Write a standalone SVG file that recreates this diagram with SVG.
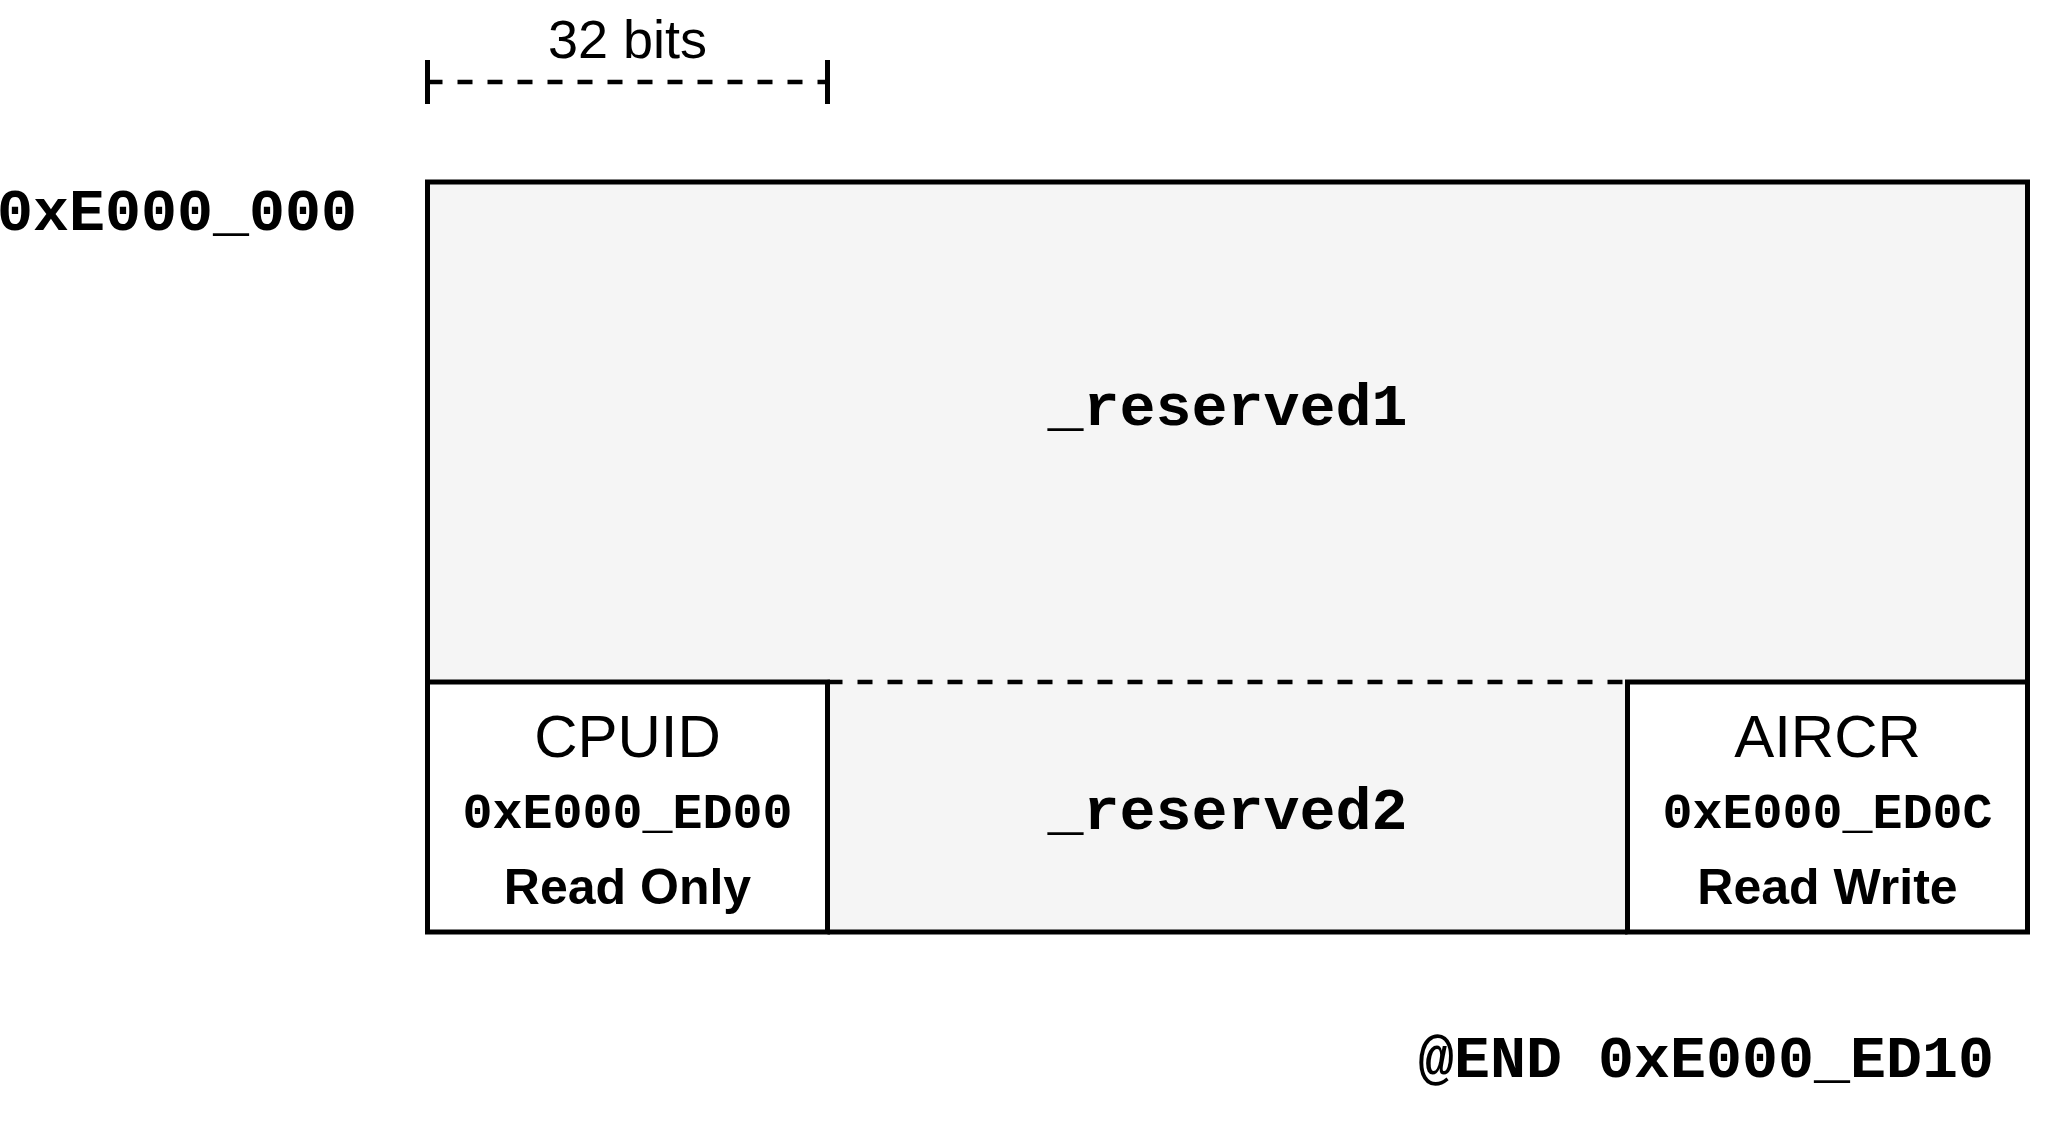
<svg xmlns="http://www.w3.org/2000/svg" width="2055" height="1130" viewBox="0 0 2055 1130">
<style>
.sans{font-family:"Liberation Sans",Arial,Helvetica,sans-serif;fill:#000}
.mono{font-family:"Courier New","Liberation Mono",monospace;font-weight:bold;fill:#000}
.b{font-weight:bold}
.line{stroke:#000;stroke-width:5;fill:none}
.dash{stroke:#000;stroke-width:4.5;fill:none;stroke-dasharray:15 15}
.grey{fill:#f5f5f5}
.cell{fill:#fff;stroke:#000;stroke-width:5}
</style>
<rect width="2055" height="1130" fill="#fff"/>
<g id="reserved1">
<rect class="grey" x="427.5" y="182" width="1600" height="500"/>
<path class="line" d="M427.5,682 V182 H2027.5 V682"/>
<text class="mono" x="1227.5" y="425" font-size="60" text-anchor="middle">_reserved1</text>
</g>
<g id="reserved2">
<rect class="grey" x="827.5" y="682" width="800" height="250"/>
<path class="dash" d="M827.5,682 H1627.5"/>
<path class="line" d="M827.5,932 H1627.5"/>
<text class="mono" x="1227.5" y="829" font-size="60" text-anchor="middle">_reserved2</text>
</g>
<g id="cpuid">
<rect class="cell" x="427.5" y="682" width="400" height="250"/>
<text class="sans" x="627.5" y="757" font-size="60" text-anchor="middle">CPUID</text>
<text class="mono" x="627.5" y="828" font-size="50" text-anchor="middle">0xE000_ED00</text>
<text class="sans b" x="627.5" y="904" font-size="50" text-anchor="middle">Read Only</text>
</g>
<g id="aircr">
<rect class="cell" x="1627.5" y="682" width="400" height="250"/>
<text class="sans" x="1827.5" y="757" font-size="60" text-anchor="middle">AIRCR</text>
<text class="mono" x="1827.5" y="828" font-size="50" text-anchor="middle">0xE000_ED0C</text>
<text class="sans b" x="1827.5" y="904" font-size="50" text-anchor="middle">Read Write</text>
</g>
<g id="start-label">
<text class="mono" x="-3" y="230" font-size="60">0xE000_000</text>
</g>
<g id="end-label">
<text class="mono" x="1418" y="1077" font-size="60">@END 0xE000_ED10</text>
</g>
<g id="connectors">
<g id="width-marker">
<path class="dash" d="M427.5,82 H827.5"/>
<path class="line" d="M427.5,60 V104 M827.5,60 V104"/>
<text class="sans" x="627.5" y="58" font-size="54" text-anchor="middle">32 bits</text>
</g>
</g>
</svg>
